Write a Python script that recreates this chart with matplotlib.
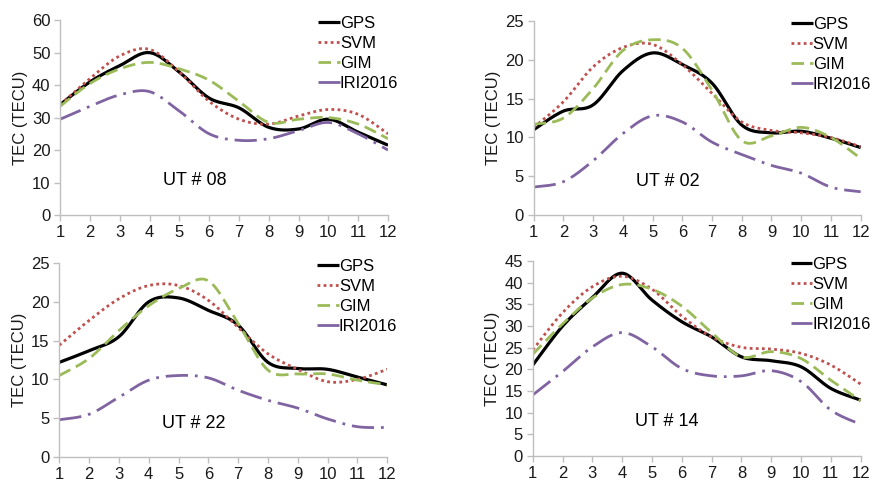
import numpy as np
import matplotlib
matplotlib.use("Agg")
import matplotlib.pyplot as plt

plt.rcParams['font.family'] = ['Liberation Sans', 'DejaVu Sans']

months = list(range(1, 13))
series_names = ["GPS", "SVM", "GIM", "IRI2016"]

# UT # 08
ut08_gps = [34, 41, 46, 50, 44, 36, 33, 27, 26.5, 29.5, 25.5, 21.5]
ut08_svm = [34, 42, 49, 51, 44, 35, 29.5, 28, 30.5, 32.5, 31, 25]
ut08_gim = [33.5, 40.5, 45, 47, 45, 41.5, 35, 28.5, 29.5, 30, 28, 23.5]
ut08_iri = [29.5, 33.5, 37, 38, 32, 25, 23, 23.5, 26, 28.5, 25, 20]

# UT # 02
ut02_gps = [11, 13.4, 14.2, 18.6, 20.9, 19.4, 17.0, 11.6, 10.6, 10.8, 9.9, 8.7]
ut02_svm = [11.3, 14.6, 19.1, 21.6, 22.0, 19.4, 15.7, 12.0, 10.9, 10.6, 10.0, 8.8]
ut02_gim = [11.7, 12.5, 16.3, 21.2, 22.6, 21.5, 16.1, 9.6, 10.2, 11.3, 10.0, 7.3]
ut02_iri = [3.6, 4.3, 7.0, 10.5, 12.8, 12.0, 9.4, 7.8, 6.4, 5.4, 3.6, 3.0]

# UT # 22
ut22_gps = [12.2, 13.7, 15.5, 20.0, 20.5, 18.9, 17.0, 12.2, 11.4, 11.3, 10.3, 9.3]
ut22_svm = [14.4, 17.6, 20.4, 22.1, 22.1, 20.2, 16.7, 13.3, 11.3, 9.7, 10.0, 11.3]
ut22_gim = [10.5, 12.7, 16.3, 19.5, 21.7, 22.7, 17.2, 11.2, 10.7, 10.7, 9.9, 9.3]
ut22_iri = [4.8, 5.5, 7.7, 9.9, 10.5, 10.2, 8.6, 7.3, 6.3, 4.9, 3.9, 3.8]

# UT # 14
ut14_gps = [21.0, 30.0, 36.6, 42.2, 36.0, 31.0, 27.5, 22.9, 22.0, 20.6, 15.6, 12.9]
ut14_svm = [24.5, 33.1, 39.1, 41.5, 38.5, 32.3, 27.5, 25.1, 24.7, 23.7, 21.0, 16.6]
ut14_gim = [23.5, 30.5, 36.5, 39.6, 38.5, 34.6, 28.5, 22.9, 24.1, 22.5, 17.5, 12.8]
ut14_iri = [14.1, 19.5, 25.2, 28.5, 25.2, 20.2, 18.5, 18.5, 19.7, 17.2, 10.6, 7.3]

panels = [
    ("UT # 08", [ut08_gps, ut08_svm, ut08_gim, ut08_iri], 60, 10),
    ("UT # 02", [ut02_gps, ut02_svm, ut02_gim, ut02_iri], 25, 5),
    ("UT # 22", [ut22_gps, ut22_svm, ut22_gim, ut22_iri], 25, 5),
    ("UT # 14", [ut14_gps, ut14_svm, ut14_gim, ut14_iri], 45, 5),
]

colors = ["#000000", "#C0504D", "#9BBB59", "#8064A2"]
widths = [2.3, 2.0, 2.0, 2.0]
styles = ["-", (0, (1, 1.2)), (0, (4.5, 2.2)), (0, (8, 2.5, 1, 2.5))]


def smooth(x, y, n=25):
    x = np.asarray(x, float)
    y = np.asarray(y, float)
    pts = np.column_stack([x, y])
    out = []
    m = len(pts)
    t = np.linspace(0, 1, n)[:, None]
    for i in range(m - 1):
        p0 = pts[i - 1] if i > 0 else pts[i]
        p1 = pts[i]
        p2 = pts[i + 1]
        p3 = pts[i + 2] if i + 2 < m else pts[i + 1]
        c1 = p1 + (p2 - p0) / 6.0
        c2 = p2 - (p3 - p1) / 6.0
        seg = ((1 - t) ** 3) * p1 + 3 * ((1 - t) ** 2) * t * c1 + 3 * (1 - t) * t ** 2 * c2 + t ** 3 * p2
        if i > 0:
            seg = seg[1:]
        out.append(seg)
    out = np.vstack(out)
    return out[:, 0], out[:, 1]


fig = plt.figure(figsize=(8.72, 4.8), dpi=100)
positions = [
    [0.069, 0.552, 0.376, 0.406],
    [0.612, 0.552, 0.375, 0.404],
    [0.068, 0.048, 0.376, 0.404],
    [0.611, 0.050, 0.376, 0.406],
]

spine_col = "#BFBFBF"
for pos, (title, data, ymax, ystep) in zip(positions, panels):
    ax = fig.add_axes(pos)
    for vals, name, c, lw, ls in zip(data, series_names, colors, widths, styles):
        xs, ys = smooth(months, vals)
        ax.plot(xs, ys, color=c, lw=lw, linestyle=ls, label=name,
                solid_capstyle='butt', dash_capstyle='butt')
    ax.set_xlim(1, 12)
    ax.set_ylim(0, ymax)
    ax.set_xticks(months)
    ax.set_yticks(np.arange(0, ymax + 0.1, ystep))
    for s in ["top", "right"]:
        ax.spines[s].set_visible(False)
    for s in ["left", "bottom"]:
        ax.spines[s].set_color(spine_col)
        ax.spines[s].set_linewidth(1.0)
    ax.tick_params(axis='both', colors=spine_col, length=4, width=1.0,
                   labelsize=12, labelcolor="#1a1a1a", pad=3)
    ax.set_ylabel("TEC (TECU)", fontsize=12, color="#1a1a1a", labelpad=3)
    ax.text(0.41, 0.175, title, transform=ax.transAxes, fontsize=13,
            ha='center', va='center', color="#000000")
    leg = ax.legend(loc='upper left', bbox_to_anchor=(0.787, 1.02), frameon=False,
                    fontsize=12, handlelength=1.3, handletextpad=0.0,
                    labelspacing=0.3, borderpad=0, borderaxespad=0)
    ax.set_facecolor('none')

fig.savefig("out.png", dpi=100)
